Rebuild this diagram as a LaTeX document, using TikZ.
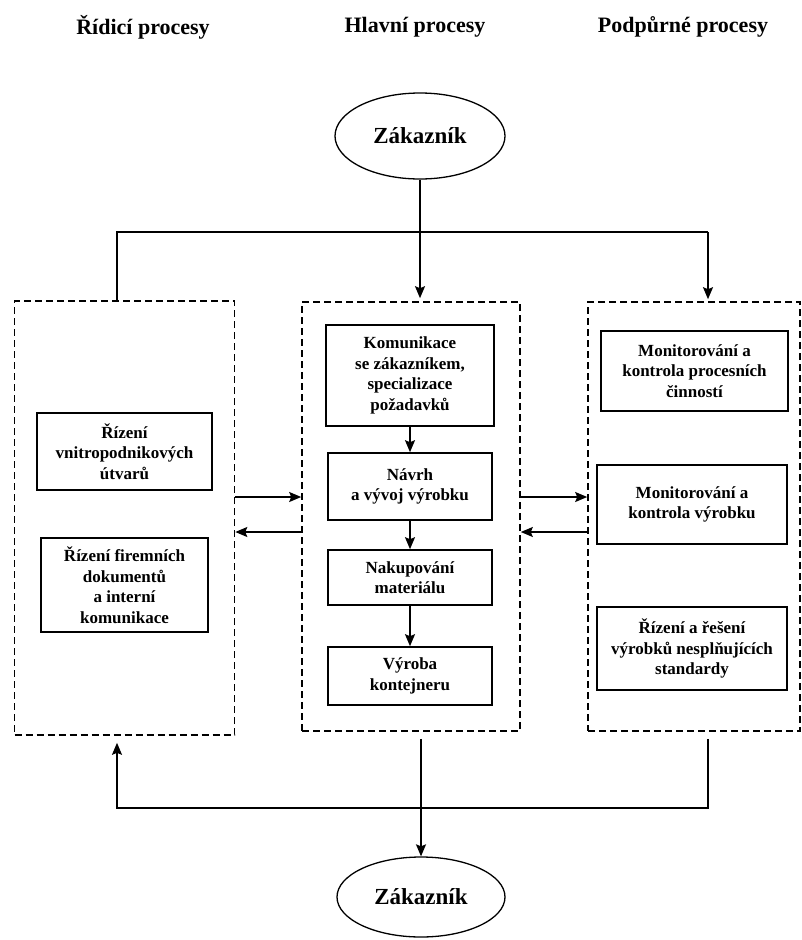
\documentclass[tikz,border=0pt]{standalone}
\usepackage{fontspec}
\setmainfont{Liberation Serif}
\usetikzlibrary{arrows.meta,shapes.geometric}
\begin{document}
\begin{tikzpicture}[x=1pt,y=-1pt,
  line width=1.5pt,
  proc/.style={draw, rectangle, align=center, inner sep=0pt, line width=1.6pt,
    font=\fontsize{17}{20.5}\selectfont\bfseries},
  grp/.style={draw, rectangle, inner sep=0pt, line width=1.6pt, dash pattern=on 7pt off 4pt},
  cust/.style={draw, ellipse, inner sep=0pt, line width=1.3pt,
    font=\fontsize{23}{27}\selectfont\bfseries},
  head/.style={font=\fontsize{22}{26}\selectfont\bfseries},
  arr/.style={-{Stealth[length=12pt,width=10pt,inset=2pt]}}
]
% canvas
\fill[white] (0,0) rectangle (802,940);

% column headings
\node[head] (h1) at (143,27) {Řídicí procesy};
\node[head] (h2) at (415,27) {Hlavní procesy};
\node[head] (h3) at (683,27) {Podpůrné procesy};

% customers
\node[cust, minimum width=170pt, minimum height=86pt] (z1) at (420,136) {Zákazník};
\node[cust, minimum width=168pt, minimum height=80pt] (z2) at (421,897) {Zákazník};

% process groups
\node[grp, minimum width=220pt, minimum height=434pt] (gL) at (124.5,518) {};
\node[grp, minimum width=218pt, minimum height=429pt] (gM) at (411,516.5) {};
\node[grp, minimum width=212pt, minimum height=429pt] (gR) at (694,516.5) {};

% management processes
\node[proc, minimum width=175pt, minimum height=77pt] (l1) at (124.5,451.5)
  {Řízení\\vnitropodnikových\\útvarů};
\node[proc, minimum width=167pt, minimum height=94pt] (l2) at (124.5,585)
  {Řízení firemních\\dokumentů\\a interní\\komunikace};

% main processes
\node[proc, minimum width=168pt, minimum height=101pt] (m1) at (410,375.5)
  {Komunikace\\se zákazníkem,\\specializace\\požadavků};
\node[proc, minimum width=164pt, minimum height=67pt] (m2) at (410,486.5)
  {Návrh\\a vývoj výrobku};
\node[proc, minimum width=164pt, minimum height=55pt] (m3) at (410,577.5)
  {Nakupování\\materiálu};
\node[proc, minimum width=164pt, minimum height=58pt] (m4) at (410,676)
  {Výroba\\kontejneru};

% support processes
\node[proc, minimum width=187pt, minimum height=80pt] (r1) at (694.5,371)
  {Monitorování a\\kontrola procesních\\činností};
\node[proc, minimum width=190pt, minimum height=79pt] (r2) at (692,504.5)
  {Monitorování a\\kontrola výrobku};
\node[proc, minimum width=190pt, minimum height=83pt] (r3) at (692,648.5)
  {Řízení a řešení\\výrobků nesplňujících\\standardy};

% routing points
\coordinate (tl) at (117,232);
\coordinate (tr) at (708,232);
\coordinate (bl) at (117,808);
\coordinate (br) at (708,808);
\coordinate (ya) at (0,497);
\coordinate (yb) at (0,532);

% customer into the process groups
\draw[arr] (z1.south) -- ([yshift=3pt]z1.south |- gM.north);
\draw (tl |- gL.north) -- (tl) -- (tr);
\draw[arr] (tr) -- ([yshift=2pt]tr |- gR.north);

% flow of the main processes
\draw[arr] (m1) -- (m2);
\draw[arr] (m2) -- (m3);
\draw[arr] (m3) -- (m4);

% links between groups
\draw[arr] (gL.east |- ya) -- (gM.west |- ya);
\draw[arr] (gM.west |- yb) -- (gL.east |- yb);
\draw[arr] (gM.east |- ya) -- (gR.west |- ya);
\draw[arr] (gR.west |- yb) -- (gM.east |- yb);

% out to the customer and feedback
\draw[arr] ([yshift=-7pt]z2.north |- gM.south) -- (z2.north);
\draw[arr] ([yshift=-7pt]br |- gR.south) -- (br) -- (bl) -- ([yshift=-7pt]bl |- gL.south);
\end{tikzpicture}
\end{document}
